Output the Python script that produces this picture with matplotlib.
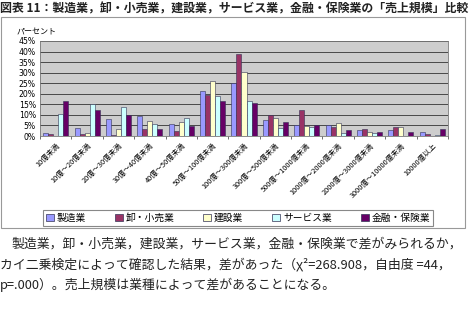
import numpy as np
import matplotlib
matplotlib.use('Agg')
import matplotlib.pyplot as plt
from matplotlib.patches import Rectangle, Patch

plt.rcParams['font.family'] = ['Noto Sans CJK JP', 'DejaVu Sans']

# data (percent)
categories = ['10億未満', '10億～20億未満', '20億～30億未満', '30億～40億未満',
              '40億～50億未満', '50億～100億未満', '100億～300億未満',
              '300億～500億未満', '500億～1000億未満', '1000億～2000億未満',
              '2000億～3000億未満', '3000億～10000億未満', '10000億以上']
series_names = ['製造業', '卸・小売業', '建設業', 'サービス業', '金融・保険業']
seizo = [1.3, 3.8, 8.0, 9.6, 5.6, 21.2, 25.3, 7.5, 5.4, 5.4, 3.0, 3.0, 1.9]
oroshi = [1.0, 0.8, 0.3, 3.3, 2.4, 19.3, 38.9, 10.0, 12.2, 4.1, 3.5, 4.1, 1.0]
kensetsu = [0.0, 1.3, 3.2, 7.3, 6.5, 26.2, 30.3, 8.4, 4.7, 6.0, 1.7, 4.1, 0.0]
service = [10.4, 15.3, 13.8, 5.6, 8.7, 18.8, 16.6, 3.6, 4.1, 1.3, 1.3, 0.0, 0.3]
kinyu = [16.4, 12.3, 9.9, 3.3, 4.8, 16.5, 15.7, 6.8, 5.1, 2.8, 1.7, 1.9, 3.5]
yticks = [0, 5, 10, 15, 20, 25, 30, 35, 40, 45]

colors = ['#9999FF', '#993366', '#FFFFCC', '#CCFFFF', '#660066']

W, H = 470, 318
fig = plt.figure(figsize=(W / 100, H / 100), dpi=100)

def fx(px):
    return px / W

def fy(py):
    return 1 - py / H

# title
fig.text(fx(0), fy(9), '図表 11：製造業，卸・小売業，建設業，サービス業，金融・保険業の「売上規模」比較',
         fontsize=8.6, fontweight='bold', va='center', ha='left', color='#222222')

# outer chart frame
fig.patches.append(Rectangle((fx(1), fy(228)), fx(464), 211 / H, transform=fig.transFigure,
                             fill=False, edgecolor='#999999', lw=0.8))

ax = fig.add_axes([fx(40), fy(136), fx(408), 95 / H])
ax.set_facecolor('#CDCDCD')

x = np.arange(len(categories))
bw = 0.16
data = [seizo, oroshi, kensetsu, service, kinyu]
for i, vals in enumerate(data):
    ax.bar(x - 2 * bw + i * bw, vals, width=bw, color=colors[i],
           edgecolor='#333355', linewidth=0.4, zorder=3)

ax.set_xlim(-0.5, len(categories) - 0.5)
ax.set_ylim(0, 45)
ax.set_yticks(yticks)
ax.set_yticklabels(['%d%%' % v for v in yticks], fontsize=5.6, family='DejaVu Sans')
ax.yaxis.grid(True, color='#333333', lw=0.6, zorder=1)
ax.tick_params(axis='y', length=0, pad=3)
ax.set_xticks(x)
ax.set_xticklabels(categories, rotation=45, ha='right', rotation_mode='anchor', fontsize=5.3)
ax.tick_params(axis='x', length=0, pad=4)
ax.set_xticks(np.arange(-0.5, len(categories), 1), minor=True)
ax.tick_params(axis='x', which='minor', length=2, color='#555555')
for s in ax.spines.values():
    s.set_color('#777777')
    s.set_linewidth(0.6)

fig.text(fx(17), fy(32), 'パーセント', fontsize=5.8, va='center', ha='left')

handles = [Patch(facecolor=c, edgecolor='#333355', linewidth=0.5) for c in colors]
leg = fig.legend(handles, series_names, loc='center', ncol=5, mode='expand',
                 bbox_to_anchor=(fx(38), fy(227), fx(400), 18 / H),
                 fontsize=7, handlelength=0.8, handleheight=0.8, handletextpad=0.3,
                 borderpad=0.3, fancybox=False, framealpha=1)
leg.get_frame().set_edgecolor('#888888')
leg.get_frame().set_linewidth(0.8)

# body text below the chart
body = [
    (12, 244, '製造業，卸・小売業，建設業，サービス業，金融・保険業で差がみられるか，'),
    (0, 265, 'カイ二乗検定によって確認した結果，差があった（χ²=268.908，自由度 =44，'),
    (0, 285, 'p=.000）。売上規模は業種によって差があることになる。'),
]
for bx, by, t in body:
    fig.text(fx(bx), fy(by), t, fontsize=9.25, va='center', ha='left', color='#222222')

fig.savefig('out.png', dpi=100)
